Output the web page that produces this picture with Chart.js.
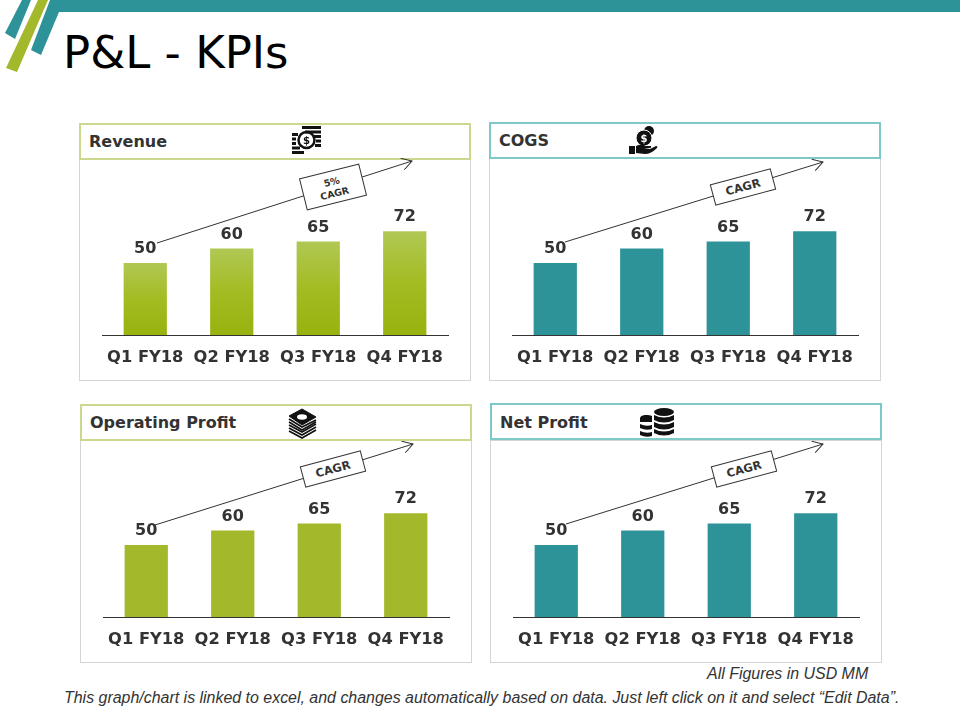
<!DOCTYPE html>
<html>
<head>
<meta charset="utf-8">
<title>P&amp;L - KPIs</title>
<script src="https://cdn.jsdelivr.net/npm/chart.js@4"></script>
<style>
  html, body { margin: 0; padding: 0; background: #fff; }
  #page { position: relative; width: 960px; height: 720px; overflow: hidden; font-family: "DejaVu Sans", sans-serif; }
  #page > * { position: absolute; }
  .panel { border: 1px solid #d4d4d4; box-sizing: border-box; background: #fff; }
  .head { box-sizing: border-box; border: 2.5px solid; background: #fff; font-weight: bold; font-size: 16px; color: #333; padding-left: 8px; }
  h1 { margin: 0; left: 63px; top: 27px; font-size: 45px; font-weight: normal; color: #000; line-height: 52px; }
  .note { font-family: "Liberation Sans", sans-serif; font-style: italic; font-size: 15.95px; color: #333; white-space: nowrap; }
  svg { left: 0; top: 0; }
</style>
</head>
<body>
<div id="page">
  <svg width="960" height="720" style="z-index:0">
    <polygon points="50,0 960,0 960,12 59,12 41,55 31,50" fill="#2e9399"/>
    <polygon points="22,0 31,0 15,39 5,33" fill="#2e9399"/>
    <polygon points="38,0 48,0 17,72 6,68" fill="#a3b82b"/>
  </svg>
  <h1>P&amp;L - KPIs</h1>
  <div class="note" style="left:707px;top:665px">All Figures in USD MM</div>
  <div class="note" style="left:64px;top:689px">This graph/chart is linked to excel, and changes automatically based on data. Just left click on it and select “Edit Data”.</div>
</div>
<script>
const categories = ['Q1 FY18', 'Q2 FY18', 'Q3 FY18', 'Q4 FY18']
const revenueValues = [50, 60, 65, 72]
const cogsValues = [50, 60, 65, 72]
const operatingProfitValues = [50, 60, 65, 72]
const netProfitValues = [50, 60, 65, 72]

const teal = '#2e9399'
const green = '#a3b82b'
const page = document.getElementById('page')

// panel layout, x/y = top left of the panel under the header
const panels = [
  { title: 'Revenue', values: revenueValues, x: 79, y: 158, headY: 123, headLine: 33, color: 'gradient', border: '#cbd98e', icon: 'coins',
    arrow: [157, 243, 412, 161], box: [333, 187, 61, 32, -14], boxText: ['5%', 'CAGR'] },
  { title: 'COGS', values: cogsValues, x: 489, y: 158, headY: 122, headLine: 33, color: teal, border: '#7fc8c8', icon: 'hand',
    arrow: [565, 242, 823, 162], box: [743, 187, 62, 21, -15], boxText: ['CAGR'] },
  { title: 'Operating Profit', values: operatingProfitValues, x: 80, y: 440, headY: 404, headLine: 34, color: green, border: '#cbd98e', icon: 'notes',
    arrow: [155, 525, 413, 444], box: [333, 469, 62, 21, -15], boxText: ['CAGR'] },
  { title: 'Net Profit', values: netProfitValues, x: 490, y: 440, headY: 403, headLine: 36, color: teal, border: '#7fc8c8', icon: 'stack',
    arrow: [566, 524, 823, 444], box: [744, 469, 62, 21, -15], boxText: ['CAGR'] }
]

const valueLabels = {
  id: 'valueLabels',
  afterDatasetsDraw(chart) {
    const ctx = chart.ctx
    const bars = chart.getDatasetMeta(0).data
    ctx.save()
    ctx.font = 'bold 16px "DejaVu Sans"'
    ctx.fillStyle = '#333'
    ctx.textAlign = 'center'
    ctx.textBaseline = 'middle'
    bars.forEach((bar, i) => {
      ctx.fillText(chart.data.datasets[0].data[i], bar.x, bar.y - 14)
    })
    ctx.restore()
  }
}

function barFill(color) {
  if (color != 'gradient') return color
  return (c) => {
    const area = c.chart.chartArea
    if (!area) return green
    // each bar fades on its own, top to base
    const barTop = c.chart.scales.y.getPixelForValue(c.dataset.data[c.dataIndex])
    if (!isFinite(barTop) || !isFinite(area.bottom)) return green
    const g = c.chart.ctx.createLinearGradient(0, barTop, 0, area.bottom)
    g.addColorStop(0, '#b0c854')
    g.addColorStop(0.5, '#a3bc22')
    g.addColorStop(1, '#98b20f')
    return g
  }
}

panels.forEach((p) => {
  const panel = document.createElement('div')
  panel.className = 'panel'
  panel.style.cssText = `left:${p.x}px;top:${p.y}px;width:392px;height:223px;z-index:1`
  page.appendChild(panel)

  const canvas = document.createElement('canvas')
  canvas.width = 392
  canvas.height = 222
  canvas.style.cssText = `left:${p.x}px;top:${p.y}px;width:392px;height:222px;z-index:2`
  page.appendChild(canvas)

  const head = document.createElement('div')
  head.className = 'head'
  head.style.cssText = `left:${p.x}px;top:${p.headY}px;width:392px;height:37px;line-height:${p.headLine}px;border-color:${p.border};z-index:3`
  head.textContent = p.title
  page.appendChild(head)

  new Chart(canvas, {
    type: 'bar',
    data: {
      labels: categories,
      datasets: [{
        data: p.values,
        backgroundColor: barFill(p.color),
        barPercentage: 1,
        categoryPercentage: 0.5
      }]
    },
    options: {
      responsive: false,
      animation: false,
      devicePixelRatio: 1,
      layout: { padding: { left: 23, right: 23, top: 33, bottom: 0 } },
      plugins: { legend: { display: false }, tooltip: { enabled: false } },
      scales: {
        x: {
          afterFit: (s) => { s.height = 45 },
          grid: { display: false, drawTicks: false },
          border: { color: '#333', width: 1 },
          ticks: { color: '#333', padding: 13, maxRotation: 0, autoSkip: false, font: { family: '"DejaVu Sans"', size: 16.3, weight: 'bold' } }
        },
        y: { display: false, min: 0, max: 100 }
      }
    },
    plugins: [valueLabels]
  })
})

// arrows, CAGR tags and header icons on top of the charts
const ns = 'http://www.w3.org/2000/svg'
const icons = {
  coins: `<g transform="translate(292,126)" fill="#111">
    <rect x="10" y="0" width="19" height="3"/><rect x="13" y="4.5" width="16" height="3"/><rect x="22" y="9" width="7" height="3"/><rect x="24" y="13.5" width="5" height="3"/><rect x="23" y="18" width="6" height="3"/>
    <rect x="0" y="7" width="6" height="3"/><rect x="0" y="11.5" width="4" height="3"/><rect x="0" y="16" width="4" height="3"/><rect x="0" y="20.5" width="8" height="3"/><rect x="0" y="25" width="12" height="3"/>
    <circle cx="14.5" cy="14" r="8" fill="none" stroke="#111" stroke-width="2.5"/><circle cx="14.5" cy="14" r="5" fill="#fff"/><text x="14.5" y="18" font-size="10" font-weight="bold" text-anchor="middle" font-family="DejaVu Sans">$</text></g>`,
  hand: `<g transform="translate(629,126)" fill="#111">
    <circle cx="20" cy="5" r="5"/><circle cx="15" cy="12" r="8" stroke="#fff" stroke-width="1"/><text x="15" y="16" font-size="10" font-weight="bold" fill="#fff" text-anchor="middle" font-family="DejaVu Sans">$</text>
    <rect x="0" y="20" width="6" height="8"/><path d="M7 20 q5 -3 10 0 l5 0 q1 2 -2 2 l-5 0 l6 1 l6 -3 q2 0 1 2 q-6 6 -12 6 l-9 -1z"/></g>`,
  notes: `<g transform="translate(288,408)" fill="none" stroke="#111">
    <path d="M1 17 L14 24 L28 16 M1 20 L14 27 L28 19 M1 23 L14 30 L28 22" stroke-width="1.7"/>
    <path d="M1 8 L14 1 L28 9 L14 17 Z" fill="#111"/><path d="M1 11 L14 19 L28 12 M1 14 L14 22 L28 14" stroke-width="1.7"/>
    <ellipse cx="14" cy="9" rx="5" ry="2.7" fill="#fff" stroke="none"/></g>`,
  stack: `<g transform="translate(640,408)" fill="#111">
    <path d="M0 10 a7 3.5 0 0 1 12 -2 l0 6 l-12 0z"/><path d="M0 16 q6 3 12 1 l0 4 q-6 2 -12 -1z"/><path d="M0 23 q6 3 12 1 l0 4 q-6 2 -12 -1z"/>
    <ellipse cx="24" cy="4" rx="10" ry="4"/><path d="M14 7 q10 5 20 0 l0 5 q-10 5 -20 0z"/><path d="M14 14 q10 5 20 0 l0 5 q-10 5 -20 0z"/><path d="M14 21 q10 5 20 0 l0 4 q-10 5 -20 0z"/></g>`
}
let overlay = `<defs><marker id="head" viewBox="0 0 12 12" refX="11" refY="6" markerWidth="12" markerHeight="12" markerUnits="userSpaceOnUse" orient="auto"><path d="M1 0 L11 6 L1 12" fill="none" stroke="#333" stroke-width="1"/></marker></defs>`
panels.forEach((p) => {
  const [x1, y1, x2, y2] = p.arrow
  const [cx, cy, w, h, rot] = p.box
  overlay += `<line x1="${x1}" y1="${y1}" x2="${x2}" y2="${y2}" stroke="#333" stroke-width="1" marker-end="url(#head)"/>`
  overlay += `<g transform="translate(${cx},${cy}) rotate(${rot})"><rect x="${-w / 2}" y="${-h / 2}" width="${w}" height="${h}" fill="#fff" stroke="#333" stroke-width="1"/>`
  p.boxText.forEach((t, i) => {
    const ty = 4 + (i - (p.boxText.length - 1) / 2) * 12
    overlay += `<text y="${ty}" text-anchor="middle" font-family="DejaVu Sans" font-weight="bold" font-size="${p.boxText.length > 1 ? 9.5 : 11.5}" fill="#333">${t}</text>`
  })
  overlay += '</g>' + icons[p.icon]
})
const overlaySvg = document.createElementNS(ns, 'svg')
overlaySvg.setAttribute('width', 960)
overlaySvg.setAttribute('height', 720)
overlaySvg.style.zIndex = 4
overlaySvg.innerHTML = overlay
page.appendChild(overlaySvg)
</script>
</body>
</html>
